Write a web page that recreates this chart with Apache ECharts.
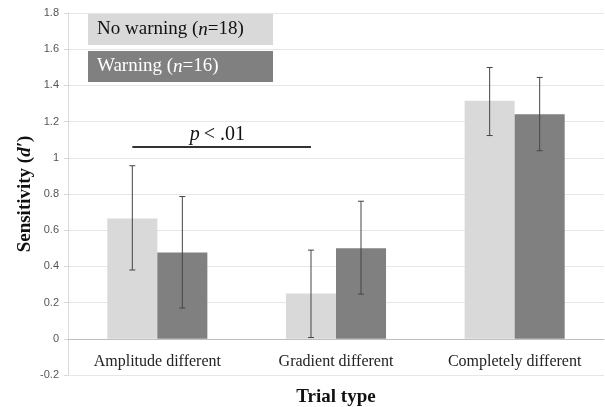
<!DOCTYPE html>
<html lang="en">

<head>
  <meta charset='utf-8'>
  <title>Sensitivity by trial type</title>
</head>

<body style="margin:0">
  <div id="myCharts" style="width: 605px;height:407px;"></div>
  <script src="https://cdn.jsdelivr.net/npm/echarts@6/dist/echarts.min.js"></script>
  <script type="text/javascript">
    // categories on the x axis
    var categories = ['Amplitude different', 'Gradient different', 'Completely different'];
    // y axis ticks
    var yTicks = [-0.2, 0, 0.2, 0.4, 0.6, 0.8, 1, 1.2, 1.4, 1.6, 1.8];
    // group names and sizes
    var groupNames = ['No warning', 'Warning'];
    var groupN = [18, 16];
    // mean d' per group
    var noWarning = [0.665, 0.25, 1.315];
    var warning = [0.477, 0.50, 1.241];
    // error bar lower / upper ends
    var noWarningLow = [0.38, 0.007, 1.123];
    var noWarningHigh = [0.956, 0.49, 1.499];
    var warningLow = [0.17, 0.247, 1.039];
    var warningHigh = [0.786, 0.76, 1.444];
    // significance bracket: from bar (category 0, series 0) to (category 1, series 0)
    var sigFrom = [0, 0];
    var sigTo = [1, 0];
    var sigValue = 1.06;

    var serif = '"Liberation Serif", "DejaVu Serif", serif';
    var barShare = 0.28; // bar width as share of a category band

    function errData(low, high) {
      return low.map(function (l, i) { return [i, l, high[i]]; });
    }

    // draws one error bar with caps, offset to sit on its bar
    function errRender(side) {
      return function (params, api) {
        var band = api.size([1, 0])[0];
        var off = (side === 0 ? -0.5 : 0.5) * band * barShare;
        var lo = api.coord([api.value(0), api.value(1)]);
        var hi = api.coord([api.value(0), api.value(2)]);
        var x = lo[0] + off;
        var cap = 3;
        var st = { stroke: '#454545', lineWidth: 1 };
        return {
          type: 'group',
          children: [
            { type: 'line', shape: { x1: x, y1: lo[1], x2: x, y2: hi[1] }, style: st },
            { type: 'line', shape: { x1: x - cap, y1: lo[1], x2: x + cap, y2: lo[1] }, style: st },
            { type: 'line', shape: { x1: x - cap, y1: hi[1], x2: x + cap, y2: hi[1] }, style: st }
          ]
        };
      };
    }

    var myChart = echarts.init(document.getElementById('myCharts'));
    var chartOption = {
      animation: false,
      grid: { left: 68, right: 1, top: 13, bottom: 32, outerBoundsMode: 'none', containLabel: false },
      legend: {
        orient: 'vertical',
        left: 83,
        top: 14,
        padding: 0,
        itemGap: 6,
        itemWidth: 0,
        itemHeight: 0,
        selectedMode: false,
        data: [
          { name: groupNames[0], icon: 'rect', textStyle: { backgroundColor: '#d9d9d9' } },
          { name: groupNames[1], icon: 'rect', textStyle: { backgroundColor: '#808080' } }
        ],
        formatter: function (name) {
          var k = groupNames.indexOf(name);
          var t = k === 0 ? 'd' : 'w';
          return '{r' + t + '|' + name + ' (}{i' + t + '|n}{r' + t + '|=' + groupN[k] + ')}';
        },
        textStyle: {
          width: 167,
          height: 21,
          lineHeight: 21,
          padding: [5, 9, 5, 9],
          rich: {
            rd: { fontFamily: serif, fontSize: 19, color: '#111', lineHeight: 21 },
            id: { fontFamily: serif, fontSize: 19, fontStyle: 'italic', color: '#111', lineHeight: 21 },
            rw: { fontFamily: serif, fontSize: 19, color: '#fff', lineHeight: 21 },
            iw: { fontFamily: serif, fontSize: 19, fontStyle: 'italic', color: '#fff', lineHeight: 21 }
          }
        }
      },
      xAxis: {
        type: 'category',
        data: categories,
        name: 'Trial type',
        nameLocation: 'middle',
        nameGap: 13,
        nameTextStyle: { fontFamily: serif, fontWeight: 'bold', fontSize: 19, color: '#111' },
        axisLine: { onZero: true, lineStyle: { color: '#bfbfbf' } },
        axisTick: { length: 5, lineStyle: { color: '#bfbfbf' } },
        axisLabel: { fontFamily: serif, fontSize: 16, color: '#222', margin: -21 }
      },
      yAxis: {
        type: 'value',
        min: yTicks[0],
        max: yTicks[yTicks.length - 1],
        interval: 0.2,
        name: '{b|Sensitivity (}{bi|d\u2032}{b|)}',
        nameLocation: 'middle',
        nameGap: 33,
        nameMoveOverlap: false,
        nameTextStyle: {
          rich: {
            b: { fontFamily: serif, fontWeight: 'bold', fontSize: 19, color: '#111' },
            bi: { fontFamily: serif, fontWeight: 'bold', fontStyle: 'italic', fontSize: 19, color: '#111' }
          }
        },
        axisLine: { show: true, lineStyle: { color: '#d9d9d9' } },
        axisTick: { show: true, length: 4, lineStyle: { color: '#d9d9d9' } },
        splitLine: { lineStyle: { color: '#e6e6e6' } },
        axisLabel: {
          fontFamily: '"Liberation Sans", sans-serif',
          fontSize: 11,
          color: '#555',
          margin: 9,
          formatter: function (v) {
            var t = yTicks.find(function (k) { return Math.abs(k - v) < 1e-6; });
            return t === undefined ? '' : String(t);
          }
        }
      },
      series: [
        {
          name: groupNames[0],
          type: 'bar',
          barWidth: (barShare * 100) + '%',
          barGap: '0%',
          itemStyle: { color: '#d9d9d9' },
          data: noWarning
        },
        {
          name: groupNames[1],
          type: 'bar',
          barWidth: (barShare * 100) + '%',
          barGap: '0%',
          itemStyle: { color: '#808080' },
          data: warning
        },
        {
          type: 'custom',
          renderItem: errRender(0),
          encode: { x: 0, y: [1, 2] },
          z: 5,
          data: errData(noWarningLow, noWarningHigh)
        },
        {
          type: 'custom',
          renderItem: errRender(1),
          encode: { x: 0, y: [1, 2] },
          z: 5,
          data: errData(warningLow, warningHigh)
        },
        {
          type: 'custom',
          z: 6,
          encode: { x: [0, 2], y: 4 },
          data: [[sigFrom[0], sigFrom[1], sigTo[0], sigTo[1], sigValue]],
          renderItem: function (params, api) {
            var band = api.size([1, 0])[0];
            var a = api.coord([api.value(0), api.value(4)]);
            var b = api.coord([api.value(2), api.value(4)]);
            var x1 = a[0] + (api.value(1) === 0 ? -0.5 : 0.5) * band * barShare;
            var x2 = b[0] + (api.value(3) === 0 ? -0.5 : 0.5) * band * barShare;
            var mid = (x1 + x2) / 2 - 22;
            return {
              type: 'group',
              children: [
                { type: 'line', shape: { x1: x1, y1: a[1], x2: x2, y2: a[1] }, style: { stroke: '#333', lineWidth: 2 } },
                {
                  type: 'text', x: mid, y: a[1] - 2,
                  style: {
                    text: 'p', align: 'right', verticalAlign: 'bottom',
                    fontFamily: serif, fontSize: 20, fontStyle: 'italic', fill: '#111'
                  }
                },
                {
                  type: 'text', x: mid + 4, y: a[1] - 2,
                  style: {
                    text: '< .01', align: 'left', verticalAlign: 'bottom',
                    fontFamily: serif, fontSize: 20, fontStyle: 'normal', fill: '#111'
                  }
                }
              ]
            };
          }
        }
      ]
    };
    myChart.setOption(chartOption);
  </script>
</body>

</html>
